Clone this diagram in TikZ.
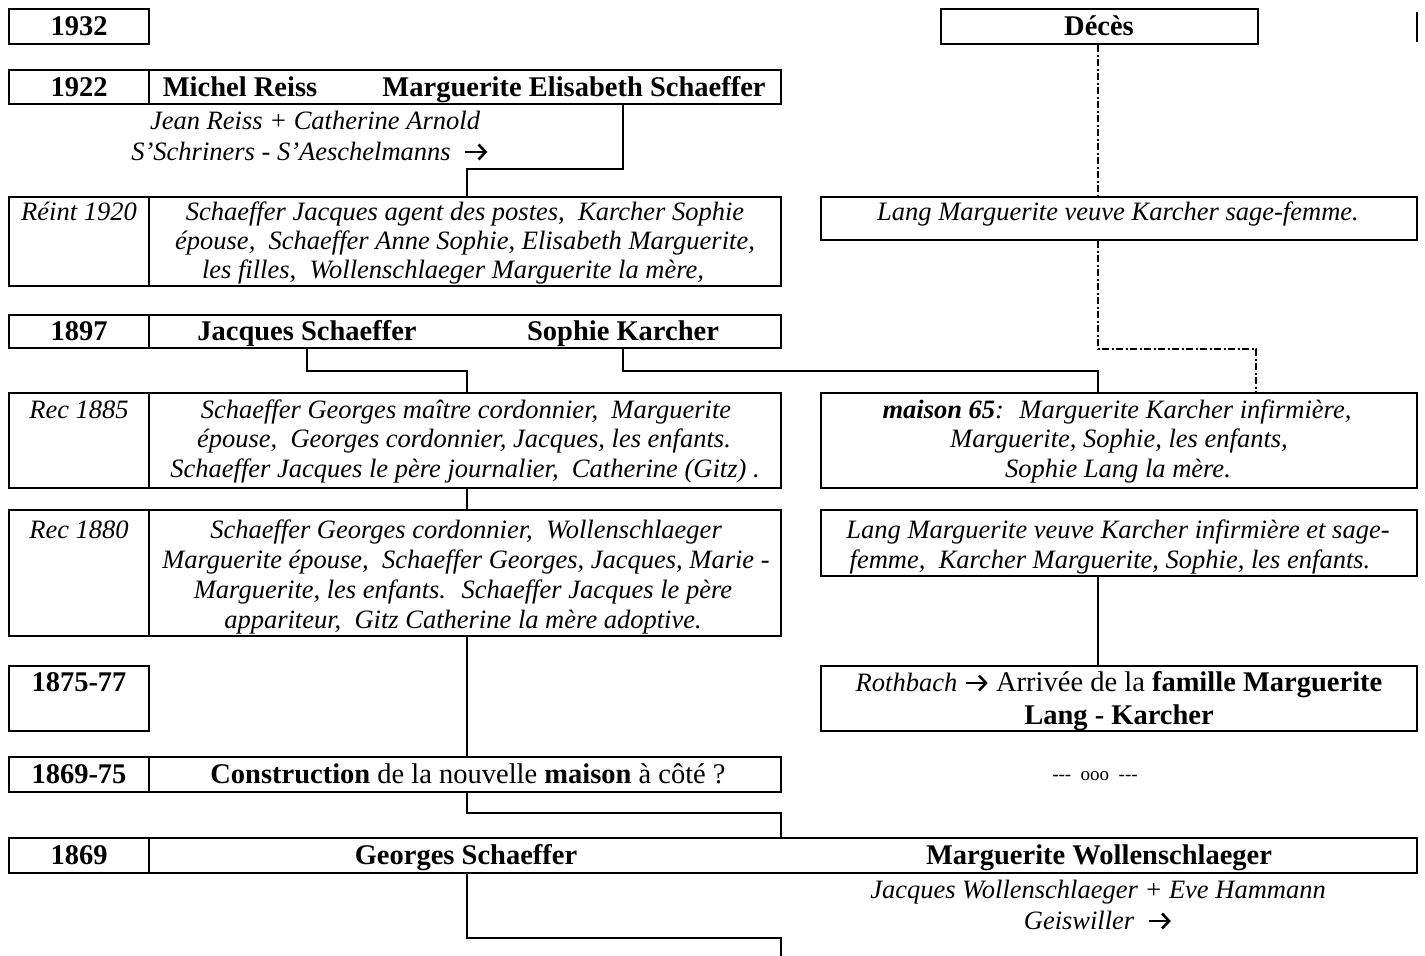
\documentclass[tikz,border=0pt]{standalone}
\usepackage{fontspec}
\setmainfont{Liberation Serif}
\usetikzlibrary{fit,arrows.meta}
\newcommand{\rar}{\tikz[baseline=-8pt,x=1pt,y=1pt]\draw[line width=2.6pt,-{Straight Barb[length=7pt,width=15pt]}] (0,0)--(22,0);}
\tikzset{
  box/.style={draw, line width=2pt, inner sep=0pt},
  conn/.style={draw, line width=2pt},
  dd/.style={draw, line width=2pt, dash pattern=on 7pt off 2.5pt on 2pt off 2.5pt},
  big/.style={anchor=base, inner sep=0pt, font=\fontsize{28.5}{33}\selectfont\bfseries},
  rm/.style={anchor=base, inner sep=0pt, font=\fontsize{28.5}{33}\selectfont},
  it/.style={anchor=base, inner sep=0pt, font=\fontsize{26.5}{30}\selectfont\itshape},
  sm/.style={anchor=base, inner sep=0pt, font=\fontsize{19}{22}\selectfont},
}
\begin{document}
\begin{tikzpicture}[x=1pt,y=-1pt]
\useasboundingbox (0,0) rectangle (1425,956);
% column coordinates
\coordinate (xdiv) at (149,0);
\coordinate (xA) at (467,0);
\coordinate (xB) at (623,0);
\coordinate (xC) at (1098,0);
\coordinate (xD) at (307,0);
\coordinate (xE) at (1256,0);
\coordinate (xF) at (781,0);

% boxes
\node[box, fit={(9,9) (149,44)}] (b1932) {};
\node[box, fit={(941,9) (1258,44)}] (bdeces) {};
\node[box, fit={(9,70) (781,104)}] (b1922) {};
\node[box, fit={(9,197) (781,286)}] (b1920) {};
\node[box, fit={(821,197) (1417,240)}] (rlang) {};
\node[box, fit={(9,315) (781,348)}] (b1897) {};
\node[box, fit={(9,393) (781,488)}] (b1885) {};
\node[box, fit={(821,393) (1417,488)}] (rm65) {};
\node[box, fit={(9,510) (781,636)}] (b1880) {};
\node[box, fit={(821,510) (1417,576)}] (rlang2) {};
\node[box, fit={(9,666) (149,731)}] (b1875) {};
\node[box, fit={(821,666) (1417,731)}] (rroth) {};
\node[box, fit={(9,757) (781,792)}] (b186975) {};
\node[box, fit={(9,838) (1417,873)}] (b1869) {};

% dividers
\foreach \b in {b1922,b1920,b1897,b1885,b1880,b186975,b1869}
  \draw[line width=2pt] (\b.north -| xdiv) -- (\b.south -| xdiv);

% stray mark top right
\coordinate (mk1) at (1417,12);
\coordinate (mk2) at (1417,42);
\draw[line width=1.5pt] (mk1) -- (mk2);

% texts
\node[big] (t1932) at (79,35) {1932};
\node[big] (tdeces) at (1099,35) {Décès};
\node[big] (t1922) at (79,96) {1922};
\node[big] (tmich) at (240,96) {Michel Reiss};
\node[big] (tmes) at (574,96) {Marguerite Elisabeth Schaeffer};
\node[it] (tjr) at (315,129) {Jean Reiss + Catherine Arnold};
\node[it] (tsch) at (310,160) {S’Schriners - S’Aeschelmanns~ \rar};

\node[it] (t1920) at (79,220) {Réint 1920};
\node[it] (l20a) at (465,220) {Schaeffer Jacques agent des postes,~ Karcher Sophie};
\node[it] (l20b) at (465,249) {épouse,~ Schaeffer Anne Sophie, Elisabeth Marguerite,};
\node[it] (l20c) at (453,278) {les filles,~ Wollenschlaeger Marguerite la mère,};
\node[it] (llang) at (1118,220) {Lang Marguerite veuve Karcher sage-femme.};

\node[big] (t1897) at (79,340) {1897};
\node[big] (tjs) at (307,340) {Jacques Schaeffer};
\node[big] (tsk) at (623,340) {Sophie Karcher};

\node[it] (t1885) at (79,418) {Rec 1885};
\node[it] (l85a) at (466,418) {Schaeffer Georges maître cordonnier,~ Marguerite};
\node[it] (l85b) at (464,447) {épouse,~ Georges cordonnier, Jacques, les enfants.};
\node[it] (l85c) at (465,477) {Schaeffer Jacques le père journalier,~ Catherine (Gitz) .};
\node[it] (m65a) at (1117,418) {\textbf{maison 65}:~ Marguerite Karcher infirmière,};
\node[it] (m65b) at (1119,447) {Marguerite, Sophie, les enfants,};
\node[it] (m65c) at (1118,477) {Sophie Lang la mère.};

\node[it] (t1880) at (79,538) {Rec 1880};
\node[it] (l80a) at (466,538) {Schaeffer Georges cordonnier,~ Wollenschlaeger};
\node[it] (l80b) at (466,568) {Marguerite épouse,~ Schaeffer Georges, Jacques, Marie -};
\node[it] (l80c) at (463,598) {Marguerite, les enfants.~ Schaeffer Jacques le père};
\node[it] (l80d) at (463,628) {appariteur,~ Gitz Catherine la mère adoptive.};
\node[it] (rl2a) at (1118,538) {Lang Marguerite veuve Karcher infirmière et sage-};
\node[it] (rl2b) at (1110,568) {femme,~ Karcher Marguerite, Sophie, les enfants.};

\node[big] (t1875) at (79,691) {1875-77};
\node[rm] (roa) at (1119,691) {{\fontsize{26.5}{30}\selectfont\itshape Rothbach} \rar{} Arrivée de la \textbf{famille Marguerite}};
\node[big] (rob) at (1119,724) {Lang - Karcher};

\node[big] (t186975) at (79,783) {1869-75};
\node[rm] (tcons) at (468,783) {\textbf{Construction} de la nouvelle \textbf{maison} à côté ?};
\node[sm] (tooo) at (1095,780) {\textbf{-}-{}-~ ooo~ -{}-{}-};

\node[big] (t1869) at (79,864) {1869};
\node[big] (tgs) at (466,864) {Georges Schaeffer};
\node[big] (tmw) at (1099,864) {Marguerite Wollenschlaeger};
\node[it] (tjw) at (1098,898) {Jacques Wollenschlaeger + Eve Hammann};
\node[it] (tgei) at (1098,929) {Geiswiller~ \rar};

% connectors
\draw[conn] (b1922.south -| xB) -- ++(0,64) -| (b1920.north -| xA);
\draw[conn] (b1897.south -| xD) -- ++(0,22) -| (b1885.north -| xA);
\draw[conn] (b1897.south -| xB) -- ++(0,22) -| (rm65.north -| xC);
\draw[conn] (b1885.south -| xA) -- (b1880.north -| xA);
\draw[conn] (b1880.south -| xA) -- (b186975.north -| xA);
\draw[conn] (rlang2.south -| xC) -- (rroth.north -| xC);
\draw[conn] (b186975.south -| xA) -- ++(0,20) -| (b1869.north -| xF);
\coordinate (endc) at (781,956);
\draw[conn] (b1869.south -| xA) -- ++(0,64) -| (endc);
% dash-dot connectors
\draw[dd] (bdeces.south -| xC) -- (rlang.north -| xC);
\draw[dd] (rlang.south -| xC) -- ++(0,108) -| (rm65.north -| xE);
\end{tikzpicture}
\end{document}
